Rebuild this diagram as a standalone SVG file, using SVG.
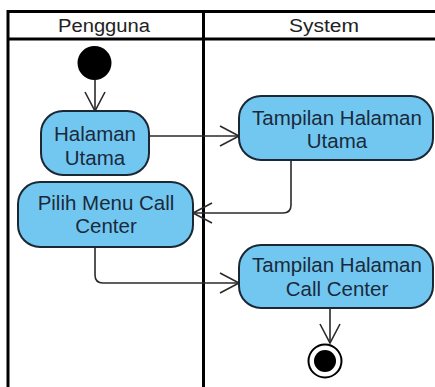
<svg xmlns="http://www.w3.org/2000/svg" width="435" height="387" viewBox="0 0 435 387">
  <defs>
    <style>
      .lane { fill: none; stroke: #000; stroke-width: 3; }
      .head { font-family: "Liberation Sans", Arial, sans-serif; font-size: 18px; fill: #222; text-anchor: middle; }
      .act rect { fill: #72c7f0; stroke: #1b2733; stroke-width: 2; }
      .act text { font-family: "Liberation Sans", Arial, sans-serif; font-size: 20.5px; fill: #1a2a3c; text-anchor: middle; }
      .flow { fill: none; stroke: #2a2a2a; stroke-width: 1.6; marker-end: url(#open); }
    </style>
    <marker id="open" markerUnits="userSpaceOnUse" markerWidth="24" markerHeight="24" viewBox="-22 -12 24 24" refX="0" refY="0" orient="auto">
      <path d="M -19 -10 L 0 0 L -19 10" fill="none" stroke="#2a2a2a" stroke-width="1.6"/>
    </marker>
  </defs>

  <!-- swimlane frame -->
  <g id="lanes">
    <line class="lane" x1="8" y1="11.5" x2="435" y2="11.5"/>
    <line class="lane" x1="8" y1="39" x2="435" y2="39"/>
    <line class="lane" x1="8" y1="10" x2="8" y2="387"/>
    <line class="lane" x1="203.5" y1="10" x2="203.5" y2="387"/>
    <text class="head" x="104" y="31.5" textLength="92" lengthAdjust="spacingAndGlyphs">Pengguna</text>
    <text class="head" x="324" y="31.5" textLength="70" lengthAdjust="spacingAndGlyphs">System</text>
  </g>

  <!-- connectors -->
  <g id="connectors">
    <path class="flow" d="M 95 80 L 95 111"/>
    <path class="flow" d="M 149 136 L 239 136"/>
    <path class="flow" d="M 291 160 L 291 205 Q 291 213 283 213 L 193 213"/>
    <path class="flow" d="M 95 247 L 95 275 Q 95 283 103 283 L 239 283"/>
    <path class="flow" d="M 330 308 L 330 343"/>
  </g>

  <g id="start">
    <circle cx="94.5" cy="63" r="17" fill="#000"/>
  </g>

  <g id="halaman-utama" class="act">
    <rect x="41" y="111" width="108" height="64" rx="22" ry="22"/>
    <text x="95" y="141">Halaman</text>
    <text x="95" y="165">Utama</text>
  </g>

  <g id="tampilan-halaman-utama" class="act">
    <rect x="239" y="96" width="194" height="64" rx="22" ry="22"/>
    <text x="337" y="125">Tampilan Halaman</text>
    <text x="337" y="148">Utama</text>
  </g>

  <g id="pilih-menu-call-center" class="act">
    <rect x="18" y="182" width="175" height="65" rx="22" ry="22"/>
    <text x="106" y="210">Pilih Menu Call</text>
    <text x="106" y="233">Center</text>
  </g>

  <g id="tampilan-halaman-call-center" class="act">
    <rect x="239" y="245" width="194" height="63" rx="22" ry="22"/>
    <text x="337" y="272">Tampilan Halaman</text>
    <text x="337" y="296">Call Center</text>
  </g>

  <g id="end">
    <circle cx="325" cy="361" r="16.5" fill="#fff" stroke="#000" stroke-width="2"/>
    <circle cx="325" cy="361" r="11" fill="#000"/>
  </g>
</svg>
